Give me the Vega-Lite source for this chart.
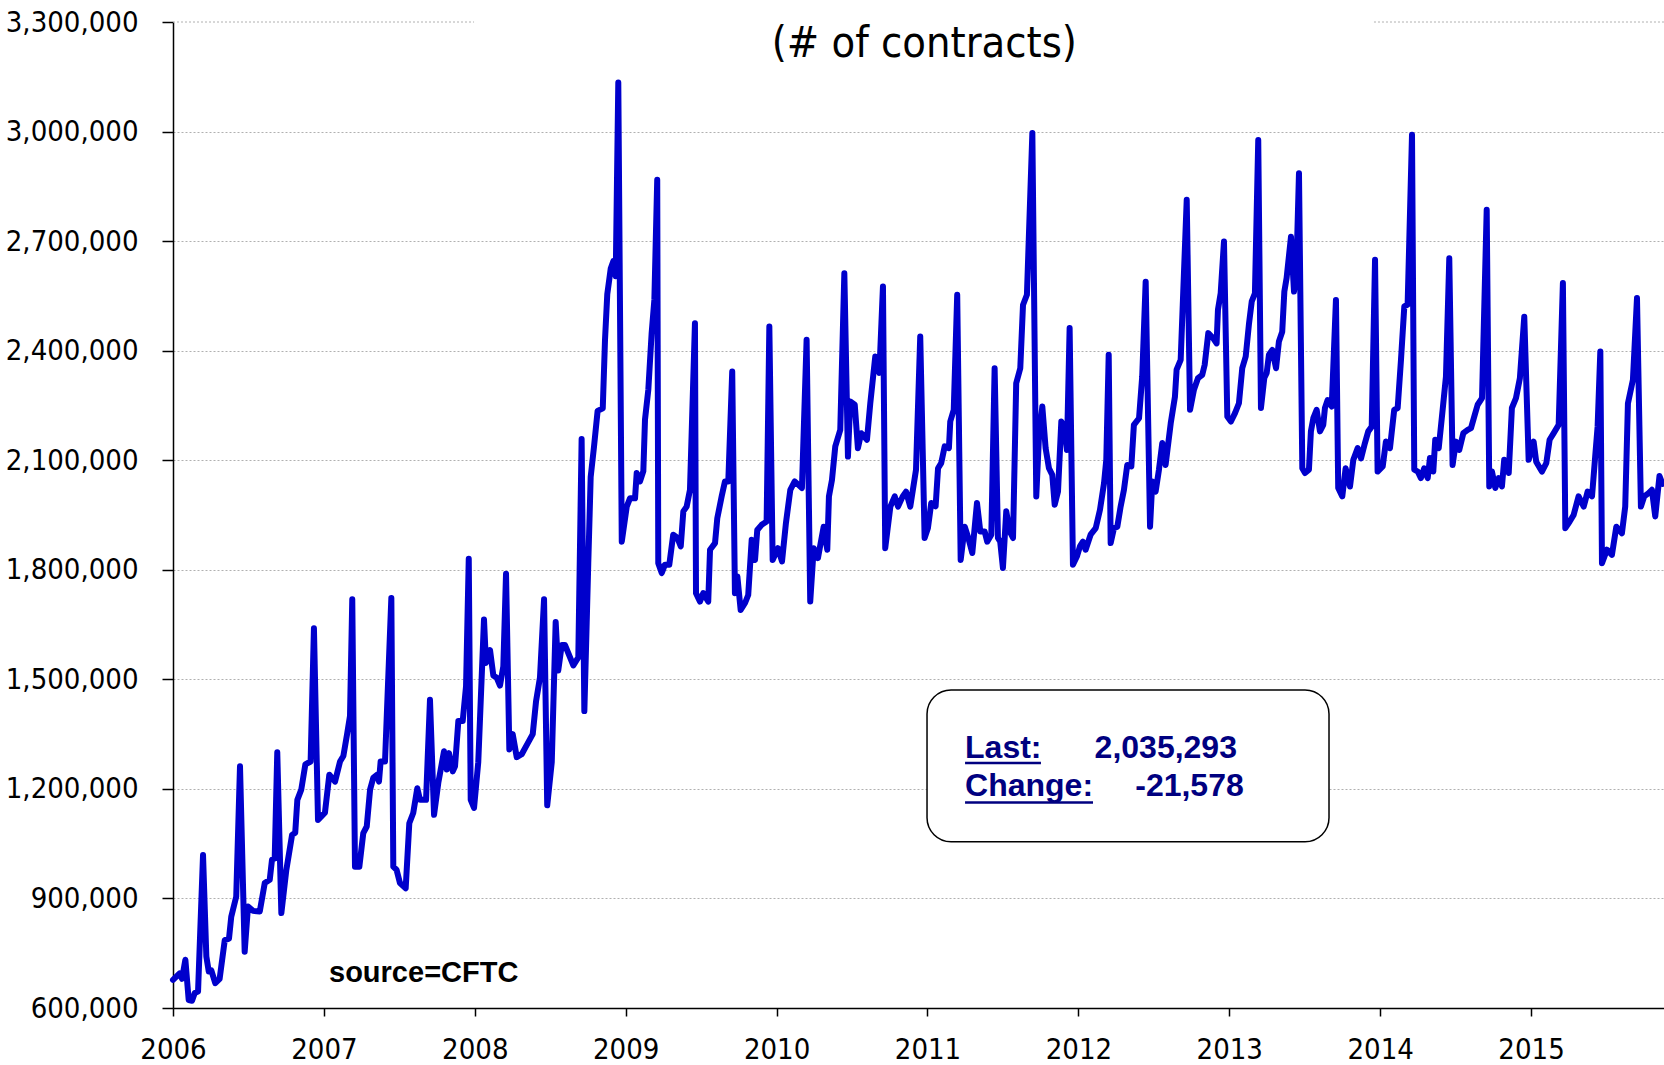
{
  "$schema": "https://vega.github.io/schema/vega-lite/v6.json",
  "width": 1491,
  "height": 986,
  "autosize": {"type": "none"},
  "padding": {"left": 173, "top": 22, "right": 0, "bottom": 57},
  "background": "white",
  "config": {"view": {"stroke": null}},
  "datasets": {
    "oi": [
      {"year":2006.000,"contracts":677000},{"year":2006.044,"contracts":695000},{"year":2006.060,"contracts":680000},{"year":2006.082,"contracts":732000},{"year":2006.104,"contracts":622000},{"year":2006.126,"contracts":620000},{"year":2006.144,"contracts":641000},{"year":2006.166,"contracts":645000},{"year":2006.199,"contracts":1019000},{"year":2006.221,"contracts":741000},{"year":2006.237,"contracts":700000},{"year":2006.254,"contracts":703000},{"year":2006.280,"contracts":668000},{"year":2006.309,"contracts":680000},{"year":2006.343,"contracts":786000},{"year":2006.371,"contracts":790000},{"year":2006.386,"contracts":850000},{"year":2006.419,"contracts":905000},{"year":2006.444,"contracts":1262000},{"year":2006.475,"contracts":754000},{"year":2006.497,"contracts":878000},{"year":2006.530,"contracts":866000},{"year":2006.575,"contracts":864000},{"year":2006.608,"contracts":942000},{"year":2006.641,"contracts":951000},{"year":2006.656,"contracts":1006000},{"year":2006.674,"contracts":1010000},{"year":2006.691,"contracts":1300000},{"year":2006.718,"contracts":860000},{"year":2006.751,"contracts":978000},{"year":2006.789,"contracts":1074000},{"year":2006.810,"contracts":1080000},{"year":2006.824,"contracts":1170000},{"year":2006.850,"contracts":1198000},{"year":2006.877,"contracts":1267000},{"year":2006.912,"contracts":1275000},{"year":2006.934,"contracts":1640000},{"year":2006.961,"contracts":1115000},
      {"year":2007.007,"contracts":1135000},{"year":2007.036,"contracts":1239000},{"year":2007.074,"contracts":1220000},{"year":2007.107,"contracts":1275000},{"year":2007.129,"contracts":1290000},{"year":2007.155,"contracts":1353000},{"year":2007.173,"contracts":1400000},{"year":2007.188,"contracts":1719000},{"year":2007.206,"contracts":987000},{"year":2007.235,"contracts":987000},{"year":2007.261,"contracts":1079000},{"year":2007.284,"contracts":1097000},{"year":2007.306,"contracts":1198000},{"year":2007.327,"contracts":1230000},{"year":2007.354,"contracts":1239000},{"year":2007.365,"contracts":1220000},{"year":2007.376,"contracts":1275000},{"year":2007.405,"contracts":1275000},{"year":2007.447,"contracts":1723000},{"year":2007.460,"contracts":987000},{"year":2007.482,"contracts":978000},{"year":2007.504,"contracts":942000},{"year":2007.542,"contracts":928000},{"year":2007.566,"contracts":1106000},{"year":2007.592,"contracts":1134000},{"year":2007.619,"contracts":1202000},{"year":2007.637,"contracts":1170000},{"year":2007.677,"contracts":1170000},{"year":2007.703,"contracts":1444000},{"year":2007.730,"contracts":1129000},{"year":2007.758,"contracts":1216000},{"year":2007.796,"contracts":1303000},{"year":2007.814,"contracts":1253000},{"year":2007.829,"contracts":1298000},{"year":2007.854,"contracts":1248000},{"year":2007.869,"contracts":1262000},{"year":2007.891,"contracts":1386000},{"year":2007.920,"contracts":1386000},{"year":2007.942,"contracts":1481000},{"year":2007.960,"contracts":1830000},{"year":2007.973,"contracts":1170000},{"year":2007.995,"contracts":1148000},
      {"year":2008.023,"contracts":1273000},{"year":2008.061,"contracts":1664000},{"year":2008.074,"contracts":1545000},{"year":2008.101,"contracts":1580000},{"year":2008.123,"contracts":1510000},{"year":2008.145,"contracts":1505000},{"year":2008.167,"contracts":1483000},{"year":2008.189,"contracts":1535000},{"year":2008.207,"contracts":1789000},{"year":2008.229,"contracts":1308000},{"year":2008.251,"contracts":1350000},{"year":2008.278,"contracts":1287000},{"year":2008.311,"contracts":1295000},{"year":2008.344,"contracts":1320000},{"year":2008.384,"contracts":1350000},{"year":2008.406,"contracts":1440000},{"year":2008.432,"contracts":1505000},{"year":2008.459,"contracts":1719000},{"year":2008.480,"contracts":1155000},{"year":2008.510,"contracts":1273000},{"year":2008.536,"contracts":1657000},{"year":2008.553,"contracts":1524000},{"year":2008.576,"contracts":1594000},{"year":2008.598,"contracts":1594000},{"year":2008.653,"contracts":1538000},{"year":2008.686,"contracts":1560000},{"year":2008.708,"contracts":2158000},{"year":2008.726,"contracts":1413000},{"year":2008.752,"contracts":1817000},{"year":2008.768,"contracts":2054000},{"year":2008.790,"contracts":2137000},{"year":2008.814,"contracts":2235000},{"year":2008.848,"contracts":2242000},{"year":2008.863,"contracts":2430000},{"year":2008.878,"contracts":2555000},{"year":2008.901,"contracts":2625000},{"year":2008.918,"contracts":2645000},{"year":2008.934,"contracts":2604000},{"year":2008.951,"contracts":3134000},{"year":2008.974,"contracts":1877000},
      {"year":2009.007,"contracts":1973000},{"year":2009.029,"contracts":1996000},{"year":2009.062,"contracts":1996000},{"year":2009.073,"contracts":2065000},{"year":2009.095,"contracts":2042000},{"year":2009.117,"contracts":2070000},{"year":2009.128,"contracts":2211000},{"year":2009.150,"contracts":2293000},{"year":2009.172,"contracts":2448000},{"year":2009.190,"contracts":2539000},{"year":2009.209,"contracts":2868000},{"year":2009.216,"contracts":1818000},{"year":2009.239,"contracts":1791000},{"year":2009.260,"contracts":1814000},{"year":2009.289,"contracts":1814000},{"year":2009.315,"contracts":1896000},{"year":2009.342,"contracts":1888000},{"year":2009.365,"contracts":1864000},{"year":2009.382,"contracts":1960000},{"year":2009.404,"contracts":1973000},{"year":2009.426,"contracts":2019000},{"year":2009.459,"contracts":2475000},{"year":2009.466,"contracts":1736000},{"year":2009.492,"contracts":1713000},{"year":2009.514,"contracts":1736000},{"year":2009.547,"contracts":1713000},{"year":2009.559,"contracts":1855000},{"year":2009.592,"contracts":1873000},{"year":2009.607,"contracts":1941000},{"year":2009.636,"contracts":2001000},{"year":2009.658,"contracts":2042000},{"year":2009.680,"contracts":2042000},{"year":2009.706,"contracts":2343000},{"year":2009.724,"contracts":1736000},{"year":2009.740,"contracts":1782000},{"year":2009.762,"contracts":1690000},{"year":2009.791,"contracts":1709000},{"year":2009.812,"contracts":1731000},{"year":2009.835,"contracts":1882000},{"year":2009.857,"contracts":1827000},{"year":2009.872,"contracts":1909000},{"year":2009.901,"contracts":1923000},{"year":2009.934,"contracts":1932000},{"year":2009.952,"contracts":2466000},{"year":2009.974,"contracts":1827000},
      {"year":2010.009,"contracts":1859000},{"year":2010.036,"contracts":1823000},{"year":2010.062,"contracts":1928000},{"year":2010.091,"contracts":2019000},{"year":2010.120,"contracts":2042000},{"year":2010.168,"contracts":2024000},{"year":2010.199,"contracts":2430000},{"year":2010.223,"contracts":1713000},{"year":2010.246,"contracts":1859000},{"year":2010.274,"contracts":1832000},{"year":2010.312,"contracts":1918000},{"year":2010.336,"contracts":1855000},{"year":2010.347,"contracts":2001000},{"year":2010.367,"contracts":2046000},{"year":2010.389,"contracts":2138000},{"year":2010.422,"contracts":2183000},{"year":2010.449,"contracts":2612000},{"year":2010.473,"contracts":2110000},{"year":2010.488,"contracts":2261000},{"year":2010.518,"contracts":2252000},{"year":2010.539,"contracts":2133000},{"year":2010.561,"contracts":2174000},{"year":2010.599,"contracts":2156000},{"year":2010.621,"contracts":2256000},{"year":2010.654,"contracts":2384000},{"year":2010.681,"contracts":2339000},{"year":2010.705,"contracts":2576000},{"year":2010.720,"contracts":1859000},{"year":2010.754,"contracts":1973000},{"year":2010.783,"contracts":2001000},{"year":2010.805,"contracts":1973000},{"year":2010.836,"contracts":2001000},{"year":2010.858,"contracts":2014000},{"year":2010.886,"contracts":1973000},{"year":2010.924,"contracts":2074000},{"year":2010.952,"contracts":2439000},{"year":2010.981,"contracts":1887000},
      {"year":2011.003,"contracts":1914000},{"year":2011.025,"contracts":1983000},{"year":2011.054,"contracts":1974000},{"year":2011.070,"contracts":2078000},{"year":2011.091,"contracts":2092000},{"year":2011.114,"contracts":2138000},{"year":2011.142,"contracts":2133000},{"year":2011.151,"contracts":2206000},{"year":2011.174,"contracts":2238000},{"year":2011.197,"contracts":2553000},{"year":2011.220,"contracts":1827000},{"year":2011.247,"contracts":1918000},{"year":2011.268,"contracts":1891000},{"year":2011.297,"contracts":1846000},{"year":2011.328,"contracts":1983000},{"year":2011.350,"contracts":1905000},{"year":2011.379,"contracts":1905000},{"year":2011.396,"contracts":1877000},{"year":2011.423,"contracts":1896000},{"year":2011.445,"contracts":2352000},{"year":2011.467,"contracts":1887000},{"year":2011.482,"contracts":1877000},{"year":2011.500,"contracts":1805000},{"year":2011.522,"contracts":1960000},{"year":2011.545,"contracts":1905000},{"year":2011.567,"contracts":1887000},{"year":2011.588,"contracts":2311000},{"year":2011.615,"contracts":2352000},{"year":2011.633,"contracts":2525000},{"year":2011.659,"contracts":2553000},{"year":2011.695,"contracts":2996000},{"year":2011.721,"contracts":2001000},{"year":2011.739,"contracts":2165000},{"year":2011.761,"contracts":2247000},{"year":2011.783,"contracts":2133000},{"year":2011.805,"contracts":2078000},{"year":2011.827,"contracts":2060000},{"year":2011.843,"contracts":1978000},{"year":2011.865,"contracts":2014000},{"year":2011.887,"contracts":2206000},{"year":2011.909,"contracts":2188000},{"year":2011.924,"contracts":2128000},{"year":2011.942,"contracts":2462000},{"year":2011.964,"contracts":1814000},{"year":2011.991,"contracts":1837000},
      {"year":2012.011,"contracts":1865000},{"year":2012.030,"contracts":1877000},{"year":2012.048,"contracts":1855000},{"year":2012.081,"contracts":1896000},{"year":2012.115,"contracts":1914000},{"year":2012.143,"contracts":1964000},{"year":2012.170,"contracts":2037000},{"year":2012.185,"contracts":2101000},{"year":2012.201,"contracts":2389000},{"year":2012.214,"contracts":1873000},{"year":2012.236,"contracts":1914000},{"year":2012.258,"contracts":1918000},{"year":2012.280,"contracts":1973000},{"year":2012.302,"contracts":2019000},{"year":2012.324,"contracts":2087000},{"year":2012.351,"contracts":2083000},{"year":2012.368,"contracts":2197000},{"year":2012.402,"contracts":2215000},{"year":2012.423,"contracts":2329000},{"year":2012.446,"contracts":2589000},{"year":2012.475,"contracts":1918000},{"year":2012.490,"contracts":2042000},{"year":2012.512,"contracts":2014000},{"year":2012.534,"contracts":2074000},{"year":2012.556,"contracts":2147000},{"year":2012.578,"contracts":2087000},{"year":2012.612,"contracts":2201000},{"year":2012.640,"contracts":2274000},{"year":2012.651,"contracts":2348000},{"year":2012.678,"contracts":2375000},{"year":2012.718,"contracts":2813000},{"year":2012.740,"contracts":2238000},{"year":2012.766,"contracts":2293000},{"year":2012.793,"contracts":2325000},{"year":2012.821,"contracts":2334000},{"year":2012.837,"contracts":2361000},{"year":2012.861,"contracts":2448000},{"year":2012.894,"contracts":2434000},{"year":2012.916,"contracts":2420000},{"year":2012.925,"contracts":2512000},{"year":2012.943,"contracts":2557000},{"year":2012.965,"contracts":2699000},{"year":2012.987,"contracts":2220000},
      {"year":2013.011,"contracts":2206000},{"year":2013.038,"contracts":2229000},{"year":2013.064,"contracts":2256000},{"year":2013.086,"contracts":2352000},{"year":2013.109,"contracts":2384000},{"year":2013.131,"contracts":2475000},{"year":2013.149,"contracts":2535000},{"year":2013.170,"contracts":2557000},{"year":2013.192,"contracts":2977000},{"year":2013.210,"contracts":2243000},{"year":2013.232,"contracts":2325000},{"year":2013.248,"contracts":2339000},{"year":2013.263,"contracts":2389000},{"year":2013.285,"contracts":2402000},{"year":2013.310,"contracts":2352000},{"year":2013.329,"contracts":2425000},{"year":2013.351,"contracts":2452000},{"year":2013.365,"contracts":2562000},{"year":2013.380,"contracts":2599000},{"year":2013.409,"contracts":2712000},{"year":2013.429,"contracts":2562000},{"year":2013.444,"contracts":2612000},{"year":2013.462,"contracts":2886000},{"year":2013.484,"contracts":2078000},{"year":2013.502,"contracts":2065000},{"year":2013.528,"contracts":2074000},{"year":2013.541,"contracts":2179000},{"year":2013.557,"contracts":2215000},{"year":2013.579,"contracts":2238000},{"year":2013.601,"contracts":2179000},{"year":2013.623,"contracts":2197000},{"year":2013.634,"contracts":2243000},{"year":2013.652,"contracts":2265000},{"year":2013.679,"contracts":2247000},{"year":2013.707,"contracts":2539000},{"year":2013.722,"contracts":2024000},{"year":2013.749,"contracts":2001000},{"year":2013.771,"contracts":2078000},{"year":2013.800,"contracts":2028000},{"year":2013.822,"contracts":2101000},{"year":2013.851,"contracts":2133000},{"year":2013.873,"contracts":2105000},{"year":2013.899,"contracts":2147000},{"year":2013.921,"contracts":2179000},{"year":2013.944,"contracts":2192000},{"year":2013.966,"contracts":2649000},{"year":2013.983,"contracts":2069000},
      {"year":2014.017,"contracts":2083000},{"year":2014.038,"contracts":2151000},{"year":2014.065,"contracts":2133000},{"year":2014.093,"contracts":2238000},{"year":2014.116,"contracts":2243000},{"year":2014.138,"contracts":2375000},{"year":2014.160,"contracts":2521000},{"year":2014.182,"contracts":2526000},{"year":2014.211,"contracts":2991000},{"year":2014.226,"contracts":2074000},{"year":2014.249,"contracts":2069000},{"year":2014.270,"contracts":2051000},{"year":2014.292,"contracts":2078000},{"year":2014.315,"contracts":2051000},{"year":2014.330,"contracts":2106000},{"year":2014.352,"contracts":2069000},{"year":2014.365,"contracts":2156000},{"year":2014.388,"contracts":2133000},{"year":2014.414,"contracts":2238000},{"year":2014.436,"contracts":2329000},{"year":2014.458,"contracts":2653000},{"year":2014.480,"contracts":2087000},{"year":2014.502,"contracts":2151000},{"year":2014.524,"contracts":2128000},{"year":2014.551,"contracts":2174000},{"year":2014.580,"contracts":2183000},{"year":2014.602,"contracts":2188000},{"year":2014.624,"contracts":2220000},{"year":2014.646,"contracts":2252000},{"year":2014.675,"contracts":2270000},{"year":2014.706,"contracts":2786000},{"year":2014.723,"contracts":2028000},{"year":2014.741,"contracts":2069000},{"year":2014.763,"contracts":2024000},{"year":2014.785,"contracts":2051000},{"year":2014.807,"contracts":2028000},{"year":2014.822,"contracts":2101000},{"year":2014.852,"contracts":2065000},{"year":2014.873,"contracts":2243000},{"year":2014.900,"contracts":2270000},{"year":2014.926,"contracts":2325000},{"year":2014.955,"contracts":2493000},{"year":2014.984,"contracts":2101000},
      {"year":2015.017,"contracts":2151000},{"year":2015.034,"contracts":2096000},{"year":2015.072,"contracts":2069000},{"year":2015.101,"contracts":2092000},{"year":2015.123,"contracts":2156000},{"year":2015.150,"contracts":2174000},{"year":2015.183,"contracts":2197000},{"year":2015.211,"contracts":2585000},{"year":2015.227,"contracts":1914000},{"year":2015.256,"contracts":1932000},{"year":2015.282,"contracts":1950000},{"year":2015.315,"contracts":2001000},{"year":2015.349,"contracts":1973000},{"year":2015.375,"contracts":2014000},{"year":2015.404,"contracts":2001000},{"year":2015.425,"contracts":2110000},{"year":2015.441,"contracts":2192000},{"year":2015.459,"contracts":2398000},{"year":2015.470,"contracts":1818000},{"year":2015.503,"contracts":1855000},{"year":2015.536,"contracts":1841000},{"year":2015.565,"contracts":1918000},{"year":2015.602,"contracts":1900000},{"year":2015.624,"contracts":1973000},{"year":2015.642,"contracts":2256000},{"year":2015.675,"contracts":2320000},{"year":2015.702,"contracts":2544000},{"year":2015.728,"contracts":1973000},{"year":2015.750,"contracts":2001000},{"year":2015.779,"contracts":2010000},{"year":2015.801,"contracts":2019000},{"year":2015.823,"contracts":1946000},{"year":2015.851,"contracts":2056871},{"year":2015.871,"contracts":2035293}
    ]
  },
  "layer": [
    {
      "data": {"name": "oi"},
      "mark": {"type": "line", "color": "#0000CC", "strokeWidth": 6, "strokeJoin": "round", "strokeCap": "round"},
      "encoding": {
        "x": {
          "field": "year", "type": "quantitative",
          "scale": {"domain": [2006, 2015.881], "nice": false, "zero": false},
          "axis": {
            "title": null, "values": [2006, 2007, 2008, 2009, 2010, 2011, 2012, 2013, 2014, 2015],
            "format": "d", "grid": false, "labelFlush": false, "labelOverlap": false,
            "labelFont": "DejaVu Sans Condensed, Liberation Sans Narrow, sans-serif", "labelFontSize": 29, "labelColor": "#000000",
            "labelPadding": 19, "tickSize": 8, "tickColor": "#000000", "tickWidth": 1.5,
            "domainColor": "#000000", "domainWidth": 1.5
          }
        },
        "y": {
          "field": "contracts", "type": "quantitative",
          "scale": {"domain": [600000, 3300000], "nice": false, "zero": false},
          "axis": {
            "title": null, "values": [600000, 900000, 1200000, 1500000, 1800000, 2100000, 2400000, 2700000, 3000000, 3300000],
            "format": ",d", "grid": true, "gridColor": "#b0b0b0", "gridDash": [2, 2], "gridWidth": 1,
            "gridOpacity": {"condition": {"test": "datum.value >= 3300000", "value": 0}, "value": 1},
            "labelFont": "DejaVu Sans Condensed, Liberation Sans Narrow, sans-serif", "labelFontSize": 29, "labelColor": "#000000",
            "labelPadding": 24, "tickSize": 11, "tickColor": "#000000", "tickWidth": 1.5,
            "domainColor": "#000000", "domainWidth": 1.5
          }
        }
      }
    },
    {
      "data": {"values": [{}]},
      "mark": {"type": "rule", "color": "#b0b0b0", "strokeDash": [2, 2], "strokeWidth": 1},
      "encoding": {"x": {"datum": 2006, "type": "quantitative"}, "x2": {"datum": 2007.995}, "y": {"datum": 3300000, "type": "quantitative"}}
    },
    {
      "data": {"values": [{}]},
      "mark": {"type": "rule", "color": "#b0b0b0", "strokeDash": [2, 2], "strokeWidth": 1},
      "encoding": {"x": {"datum": 2013.959, "type": "quantitative"}, "x2": {"datum": 2015.881}, "y": {"datum": 3300000, "type": "quantitative"}}
    },
    {
      "data": {"values": [{}]},
      "mark": {"type": "text", "text": "(# of contracts)", "font": "DejaVu Sans Condensed, Liberation Sans Narrow, sans-serif", "fontSize": 43, "color": "#000000", "align": "center", "baseline": "middle"},
      "encoding": {"x": {"datum": 2010.979, "type": "quantitative"}, "y": {"datum": 3240000, "type": "quantitative"}}
    },
    {
      "data": {"values": [{}]},
      "mark": {"type": "rect", "fill": "#ffffff", "stroke": "#000000", "strokeWidth": 1.5, "cornerRadius": 24},
      "encoding": {"x": {"datum": 2010.997, "type": "quantitative"}, "x2": {"datum": 2013.661}, "y": {"datum": 1471000, "type": "quantitative"}, "y2": {"datum": 1055000}}
    },
    {
      "data": {"values": [{}]},
      "mark": {"type": "text", "text": "Last:", "font": "Liberation Sans, Arial, sans-serif", "fontWeight": "bold", "fontSize": 32, "color": "#000080", "align": "left", "baseline": "alphabetic"},
      "encoding": {"x": {"datum": 2011.249, "type": "quantitative"}, "y": {"datum": 1285000, "type": "quantitative"}}
    },
    {
      "data": {"values": [{}]},
      "mark": {"type": "text", "text": "2,035,293", "font": "Liberation Sans, Arial, sans-serif", "fontWeight": "bold", "fontSize": 32, "color": "#000080", "align": "right", "baseline": "alphabetic"},
      "encoding": {"x": {"datum": 2013.051, "type": "quantitative"}, "y": {"datum": 1285000, "type": "quantitative"}}
    },
    {
      "data": {"values": [{}]},
      "mark": {"type": "text", "text": "Change:", "font": "Liberation Sans, Arial, sans-serif", "fontWeight": "bold", "fontSize": 32, "color": "#000080", "align": "left", "baseline": "alphabetic"},
      "encoding": {"x": {"datum": 2011.249, "type": "quantitative"}, "y": {"datum": 1180000, "type": "quantitative"}}
    },
    {
      "data": {"values": [{}]},
      "mark": {"type": "text", "text": "-21,578", "font": "Liberation Sans, Arial, sans-serif", "fontWeight": "bold", "fontSize": 32, "color": "#000080", "align": "right", "baseline": "alphabetic"},
      "encoding": {"x": {"datum": 2013.096, "type": "quantitative"}, "y": {"datum": 1180000, "type": "quantitative"}}
    },
    {
      "data": {"values": [{}]},
      "mark": {"type": "rule", "color": "#000080", "strokeWidth": 2.5},
      "encoding": {"x": {"datum": 2011.249, "type": "quantitative"}, "x2": {"datum": 2011.752}, "y": {"datum": 1271000, "type": "quantitative"}}
    },
    {
      "data": {"values": [{}]},
      "mark": {"type": "rule", "color": "#000080", "strokeWidth": 2.5},
      "encoding": {"x": {"datum": 2011.249, "type": "quantitative"}, "x2": {"datum": 2012.097}, "y": {"datum": 1163000, "type": "quantitative"}}
    },
    {
      "data": {"values": [{}]},
      "mark": {"type": "text", "text": "source=CFTC", "font": "Liberation Sans, Arial, sans-serif", "fontWeight": "bold", "fontSize": 29, "color": "#000000", "align": "left", "baseline": "alphabetic"},
      "encoding": {"x": {"datum": 2007.034, "type": "quantitative"}, "y": {"datum": 672000, "type": "quantitative"}}
    }
  ]
}
